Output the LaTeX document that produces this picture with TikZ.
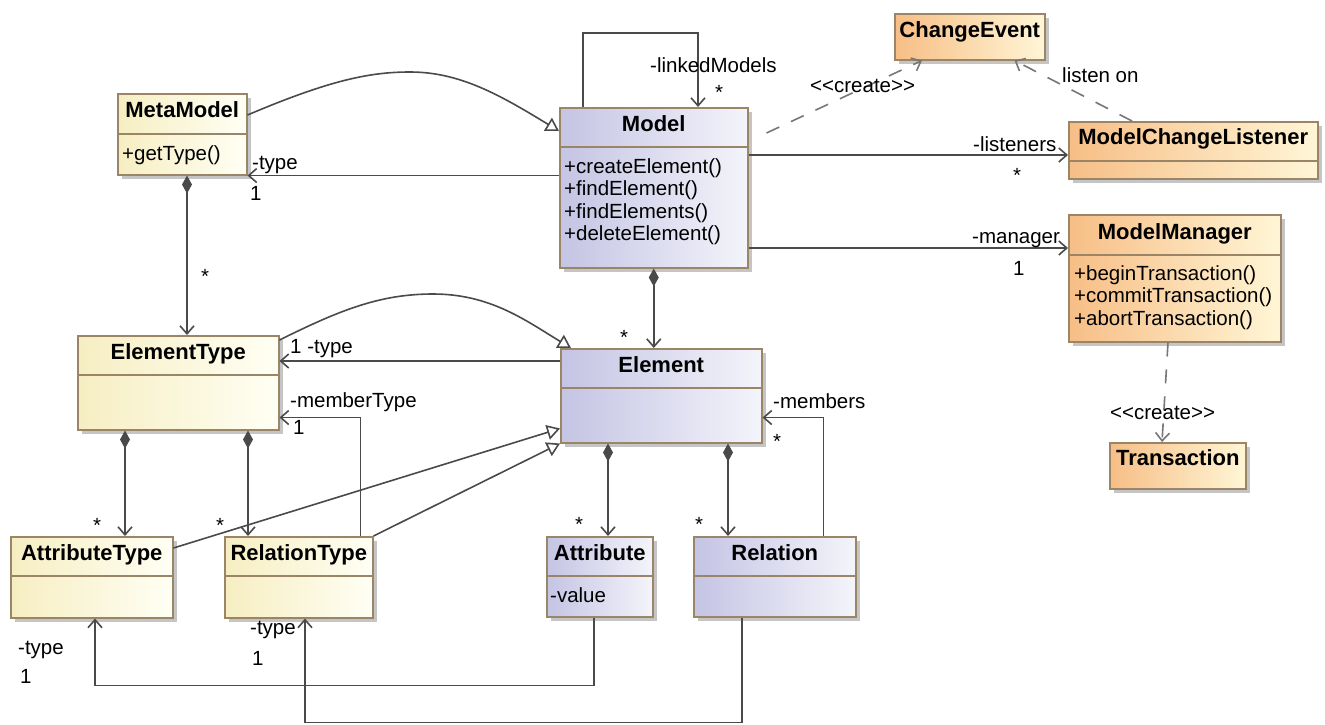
\documentclass[tikz,border=0pt]{standalone}
\usepackage{fontspec}
\setmainfont{Liberation Sans}
\usetikzlibrary{arrows.meta,calc,shadows}

\definecolor{clsborder}{HTML}{9A8566}
\definecolor{lineclr}{HTML}{4A4A4A}
\definecolor{depclr}{HTML}{777777}
\definecolor{yelA}{HTML}{F6EEC2}
\definecolor{yelB}{HTML}{FFFFF4}
\definecolor{bluA}{HTML}{C4C4E4}
\definecolor{bluB}{HTML}{F4F4FB}
\definecolor{orgA}{HTML}{F7BE86}
\definecolor{orgB}{HTML}{FFF6D6}

\tikzset{
  cls/.style={draw=clsborder, line width=1.5pt, anchor=north west, inner sep=0pt,
    drop shadow={shadow xshift=4pt, shadow yshift=-4pt, fill=black!45, opacity=.5}},
  yclass/.style={cls, left color=yelA, right color=yelB},
  bclass/.style={cls, left color=bluA, right color=bluB},
  oclass/.style={cls, left color=orgA, right color=orgB},
  sepline/.style={draw=clsborder, line width=1.5pt},
  ctitle/.style={font=\bfseries\fontsize{22}{26}\selectfont, inner sep=0pt, anchor=base},
  cbody/.style={font=\fontsize{20.5}{22.6}\selectfont, anchor=north west, align=left, inner sep=0pt},
  lbl/.style={font=\fontsize{20.5}{24}\selectfont, inner sep=0pt, anchor=base west},
  star/.style={font=\fontsize{20.5}{24}\selectfont, inner sep=0pt, yshift=-4.5pt},
  assoc/.style={draw=lineclr, line width=1.6pt, -{Straight Barb[length=8pt,width=14pt]}},
  comp/.style={assoc, {Diamond[length=18pt,width=10pt]}-{Straight Barb[length=8pt,width=14pt]}},
  gen/.style={draw=lineclr, line width=1.6pt, -{Triangle[open,length=13pt,width=15pt,fill=white]}},
  dep/.style={draw=depclr, line width=1.6pt, dash pattern=on 14pt off 13pt, -{Straight Barb[length=8pt,width=14pt]}},
}

\begin{document}
\begin{tikzpicture}[x=1pt, y=-1pt]
    \fill[white] (0,0) rectangle (1325,724);
    \useasboundingbox (0,0) rectangle (1325,724);

    % classes
    \node[yclass, minimum width=129pt, minimum height=81pt] (meta) at (117,93) {};
    \draw[sepline] ($(meta.north west)+(0,41)$) -- ($(meta.north east)+(0,41)$);
    \node[ctitle] (metaT) at ($(meta.north)+(0,24.5)$) {MetaModel};
    \node[cbody] (metaB) at ($(meta.north west)+(5,52)$) {+getType()};

    \node[bclass, minimum width=188pt, minimum height=160pt] (model) at (559,107) {};
    \draw[sepline] ($(model.north west)+(0,40)$) -- ($(model.north east)+(0,40)$);
    \node[ctitle] (modelT) at ($(model.north)+(0,24.5)$) {Model};
    \node[cbody] (modelB) at ($(model.north west)+(5,51)$)
        {+createElement()\\+findElement()\\+findElements()\\+deleteElement()};

    \node[oclass, minimum width=150pt, minimum height=46pt] (changeevent) at (894,13) {};
    \node[ctitle] (changeeventT) at ($(changeevent.north)+(0,24)$) {ChangeEvent};

    \node[oclass, minimum width=249pt, minimum height=57pt] (listener) at (1068,121) {};
    \draw[sepline] ($(listener.north west)+(0,40)$) -- ($(listener.north east)+(0,40)$);
    \node[ctitle] (listenerT) at ($(listener.north)+(0,23)$) {ModelChangeListener};

    \node[oclass, minimum width=212pt, minimum height=127pt] (manager) at (1068,214) {};
    \draw[sepline] ($(manager.north west)+(0,41)$) -- ($(manager.north east)+(0,41)$);
    \node[ctitle] (managerT) at ($(manager.north)+(0,25)$) {ModelManager};
    \node[cbody] (managerB) at ($(manager.north west)+(6,51)$)
        {+beginTransaction()\\+commitTransaction()\\+abortTransaction()};

    \node[oclass, minimum width=136pt, minimum height=46pt] (transaction) at (1109,442) {};
    \node[ctitle] (transactionT) at ($(transaction.north)+(0,23)$) {Transaction};

    \node[yclass, minimum width=201pt, minimum height=94pt] (elemtype) at (77,335) {};
    \draw[sepline] ($(elemtype.north west)+(0,40)$) -- ($(elemtype.north east)+(0,40)$);
    \node[ctitle] (elemtypeT) at ($(elemtype.north)+(0,24)$) {ElementType};

    \node[bclass, minimum width=201pt, minimum height=94pt] (element) at (560,348) {};
    \draw[sepline] ($(element.north west)+(0,40)$) -- ($(element.north east)+(0,40)$);
    \node[ctitle] (elementT) at ($(element.north)+(0,24)$) {Element};

    \node[yclass, minimum width=162pt, minimum height=81pt] (attrtype) at (10,536) {};
    \draw[sepline] ($(attrtype.north west)+(0,40)$) -- ($(attrtype.north east)+(0,40)$);
    \node[ctitle] (attrtypeT) at ($(attrtype.north)+(0,24)$) {AttributeType};

    \node[yclass, minimum width=148pt, minimum height=81pt] (reltype) at (224,536) {};
    \draw[sepline] ($(reltype.north west)+(0,40)$) -- ($(reltype.north east)+(0,40)$);
    \node[ctitle] (reltypeT) at ($(reltype.north)+(0,24)$) {RelationType};

    \node[bclass, minimum width=106pt, minimum height=80pt] (attribute) at (546,536) {};
    \draw[sepline] ($(attribute.north west)+(0,40)$) -- ($(attribute.north east)+(0,40)$);
    \node[ctitle] (attributeT) at ($(attribute.north)+(0,24)$) {Attribute};
    \node[cbody] (attributeB) at ($(attribute.north west)+(4,51)$) {-value};

    \node[bclass, minimum width=162pt, minimum height=80pt] (relation) at (693,536) {};
    \draw[sepline] ($(relation.north west)+(0,40)$) -- ($(relation.north east)+(0,40)$);
    \node[ctitle] (relationT) at ($(relation.north)+(0,24)$) {Relation};

    % generalizations
    \draw[gen] ($(meta.north east)+(0,22)$) .. controls (330,80) and (370,72) .. (410,72)
        .. controls (460,72) and (500,95) .. ($(model.north west)+(0,24)$);
    \draw[gen] ($(elemtype.north east)+(0,5)$) .. controls (340,310) and (380,294) .. (433,294)
        .. controls (490,294) and (525,320) .. ($(element.north west)+(11,0)$);
    \draw[gen] ($(attrtype.north east)+(0,12)$) -- ($(element.south west)+(0,-15)$);
    \draw[gen] (reltype.north east) -- (element.south west);

    % associations and compositions
    \draw[assoc] (model.west |- meta.south east) -- (meta.south east);
    \draw[comp] ($(meta.south west)+(70,0)$) coordinate (c1) -- (c1 |- elemtype.north);
    \draw[comp] (model.south) -- (model.south |- element.north);
    \draw[assoc] ($(model.north west)+(24,0)$) -- ++(0,-74) -| ($(model.north west)+(139,0)$);
    \draw[assoc] ($(model.north east)+(0,48)$) coordinate (c2) -- (c2 -| listener.west);
    \draw[assoc] ($(model.north east)+(0,141)$) coordinate (c3) -- (c3 -| manager.west);
    \draw[assoc] ($(element.north west)+(0,13)$) coordinate (c4) -- (c4 -| elemtype.east);
    \draw[assoc] ($(reltype.north east)+(-13,0)$) |- ($(elemtype.south east)+(0,-13)$);
    \draw[comp] ($(elemtype.south west)+(48,0)$) coordinate (c5) -- (c5 |- attrtype.north);
    \draw[comp] ($(elemtype.south west)+(171,0)$) coordinate (c6) -- (c6 |- reltype.north);
    \draw[comp] ($(element.south west)+(48,0)$) coordinate (c7) -- (c7 |- attribute.north);
    \draw[comp] ($(element.south west)+(168,0)$) coordinate (c8) -- (c8 |- relation.north);
    \draw[assoc] ($(relation.north east)+(-33,0)$) |- ($(element.south east)+(0,-26)$);
    \draw[assoc] ($(attribute.south west)+(48,0)$) -- ++(0,68) -| ($(attrtype.south west)+(85,0)$);
    \draw[assoc] ($(relation.south west)+(49,0)$) -- ++(0,105) -| ($(reltype.south west)+(81,0)$);

    % dependencies
    \draw[dep] ($(model.north east)+(18,26)$) -- ($(changeevent.south west)+(28,0)$);
    \draw[dep] ($(listener.north west)+(64,0)$) -- ($(changeevent.south east)+(-31,0)$);
    \draw[dep] ($(manager.south west)+(100,0)$) -- ($(transaction.north west)+(53,0)$);

    % role names and multiplicities
    \node[lbl] (metaType) at (252,169) {-type};
    \node[lbl] (metaOne) at (250,200) {1};
    \node[star] (metaStar) at (205,272) {*};
    \node[lbl] (linkedL) at (650,72) {-linkedModels};
    \node[star] (linkedStar) at (719,88) {*};
    \node[lbl] (createA) at (810,92) {<{}<create>{}>};
    \node[lbl] (listenL) at (1062,82) {listen on};
    \node[lbl] (listenersL) at (973,151) {-listeners};
    \node[star] (listenersStar) at (1017,171) {*};
    \node[lbl] (managerL) at (972,243) {-manager};
    \node[lbl] (managerOne) at (1013,275) {1};
    \node[lbl] (createB) at (1110,419) {<{}<create>{}>};
    \node[lbl] (elemTypeL) at (290,353) {1 -type};
    \node[lbl] (memberTypeL) at (290,407) {-memberType};
    \node[lbl] (memberTypeOne) at (293,434) {1};
    \node[star] (attrtypeStar) at (97,521) {*};
    \node[star] (reltypeStar) at (220,521) {*};
    \node[star] (elementStar) at (624,333) {*};
    \node[lbl] (membersL) at (773,408) {-members};
    \node[star] (membersStar) at (777,437) {*};
    \node[star] (attributeStar) at (579,520) {*};
    \node[star] (relationStar) at (699,520) {*};
    \node[lbl] (attrTypeL) at (18,654) {-type};
    \node[lbl] (attrTypeOne) at (20,683) {1};
    \node[lbl] (relTypeL) at (250,634) {-type};
    \node[lbl] (relTypeOne) at (252,665) {1};
\end{tikzpicture}
\end{document}
